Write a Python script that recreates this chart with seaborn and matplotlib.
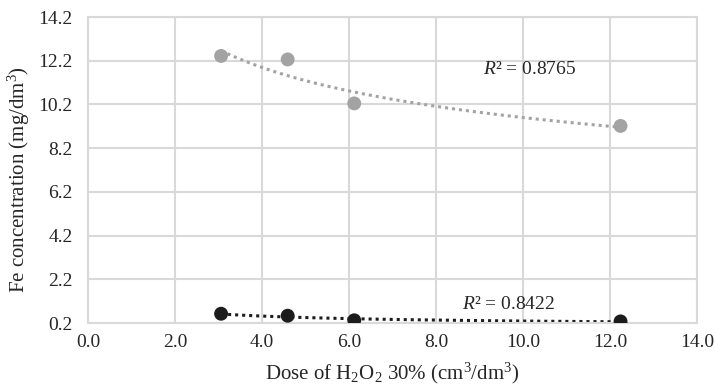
import numpy as np
import pandas as pd
import matplotlib
matplotlib.use("Agg")
import matplotlib.pyplot as plt
import seaborn as sns

# data
dose = [3.06, 4.59, 6.12, 12.24]
fe_gray = [12.42, 12.26, 10.25, 9.22]
fe_black = [0.63, 0.54, 0.33, 0.28]
r2_labels = ["0.8765", "0.8422"]
x_ticks = [0.0, 2.0, 4.0, 6.0, 8.0, 10.0, 12.0, 14.0]
y_ticks = [0.2, 2.2, 4.2, 6.2, 8.2, 10.2, 12.2, 14.2]

GRAY = "#a3a3a3"
BLACK = "#1c1c1c"
GRID = "#d9d9d9"
TEXT = "#262626"


# power trendline, like Excel's
def power_trend(x, y):
    b, ln_a = np.polyfit(np.log(x), np.log(y), 1)
    xs = np.linspace(min(x), max(x), 100)
    return pd.DataFrame({"x": xs, "y": np.exp(ln_a) * xs ** b})


sns.set_theme(style="whitegrid")
plt.rcParams["font.family"] = ["Liberation Serif", "DejaVu Serif"]
plt.rcParams["mathtext.fontset"] = "custom"
plt.rcParams["mathtext.rm"] = "Liberation Serif"
plt.rcParams["mathtext.it"] = "Liberation Serif:italic"

fig, ax = plt.subplots(figsize=(7.15, 3.87), dpi=100)

df = pd.DataFrame({"dose": dose, "gray": fe_gray, "black": fe_black})

for col, color in [("gray", GRAY), ("black", BLACK)]:
    trend = power_trend(df["dose"], df[col])
    sns.lineplot(data=trend, x="x", y="y", ax=ax, color=color,
                 linestyle=(0, (1, 1.3)), linewidth=2.2, zorder=2)
    sns.scatterplot(data=df, x="dose", y=col, ax=ax, color=color,
                    s=100, edgecolor="none", zorder=3)

ax.text(9.08, 11.78, "$R$² = " + r2_labels[0], fontsize=14, va="center", color=TEXT)
ax.text(8.59, 1.03, "$R$² = " + r2_labels[1], fontsize=14, va="center", color=TEXT)

ax.set_xlim(0, 14)
ax.set_ylim(0.2, 14.2)
ax.set_xticks(x_ticks)
ax.set_yticks(y_ticks)
ax.set_xticklabels([f"{v:.1f}" for v in x_ticks])
ax.set_yticklabels([f"{v:.1f}" for v in y_ticks])
ax.tick_params(labelsize=14, colors=TEXT, length=0)
ax.tick_params(axis="y", pad=11)
ax.tick_params(axis="x", pad=8)

ax.grid(True, color=GRID, linewidth=1.5)
for sp in ax.spines.values():
    sp.set_color(GRID)
    sp.set_linewidth(1.5)

ax.set_xlabel("Dose of H$_2$O$_2$ 30% (cm$^3$/dm$^3$)", fontsize=15, color=TEXT, labelpad=7)
ax.set_ylabel("Fe concentration (mg/dm$^3$)", fontsize=15, color=TEXT)
ax.yaxis.set_label_coords(-0.092, 0.47)

plt.subplots_adjust(left=0.123, right=0.975, top=0.956, bottom=0.165)
plt.savefig("out.png", dpi=100)
